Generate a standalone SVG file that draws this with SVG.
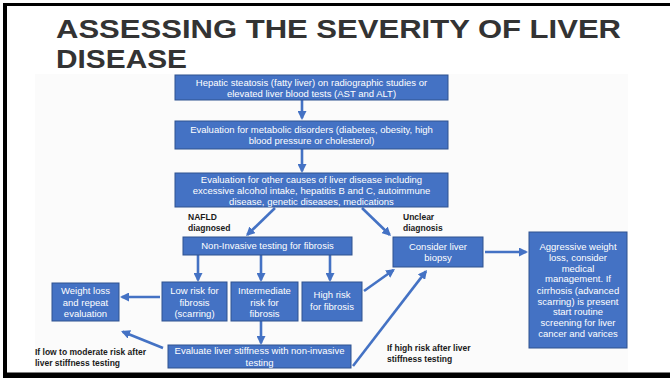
<svg xmlns="http://www.w3.org/2000/svg" width="670" height="378" viewBox="0 0 670 378">
<defs>
<style>
.box{fill:#4472C4;stroke:#2F528F;stroke-width:1}
.bt{fill:#ffffff;font-family:"Liberation Sans",Arial,sans-serif;font-size:9.5px;text-anchor:middle}
.lbl{fill:#1a1a1a;font-family:"Liberation Sans",Arial,sans-serif;font-size:8.5px;font-weight:bold}
.title{fill:#333333;font-family:"Liberation Sans",Arial,sans-serif;font-size:26.5px;font-weight:bold}
.ar{stroke:#4472C4;stroke-width:2.6;fill:none;marker-end:url(#ah)}
</style>
<marker id="ah" markerUnits="userSpaceOnUse" markerWidth="9" markerHeight="9" viewBox="0 0 10 10" refX="8" refY="5" orient="auto">
<path d="M0,0 L10,5 L0,10 z" fill="#4472C4"/>
</marker>
</defs>
<rect x="0" y="0" width="670" height="378" fill="#ffffff"/>
<rect x="35" y="74" width="593" height="298" fill="#fbfbfb"/>
<g id="frame" fill="#000000">
<rect x="3" y="3" width="667" height="3"/>
<rect x="3" y="3" width="4" height="375"/>
<rect x="3" y="372.5" width="667" height="5.5"/>
</g>
<g id="title">
<text class="title" x="56" y="38" textLength="565" lengthAdjust="spacingAndGlyphs">ASSESSING THE SEVERITY OF LIVER</text>
<text class="title" x="56" y="68" textLength="131" lengthAdjust="spacingAndGlyphs">DISEASE</text>
</g>
<g id="connectors">
<line class="ar" x1="302" y1="100" x2="302" y2="118.2"/>
<line class="ar" x1="302" y1="149" x2="302" y2="171.2"/>
<line class="ar" x1="275" y1="208" x2="247.3" y2="234.8"/>
<line class="ar" x1="362" y1="208" x2="389.7" y2="234.8"/>
<line class="ar" x1="198" y1="255" x2="198" y2="280.2"/>
<line class="ar" x1="261" y1="255" x2="261" y2="280.2"/>
<line class="ar" x1="330" y1="255" x2="330" y2="280.2"/>
<line class="ar" x1="160" y1="297" x2="121.8" y2="297"/>
<line class="ar" x1="261" y1="321" x2="261" y2="343.2"/>
<line class="ar" x1="163" y1="348" x2="122.7" y2="331.7"/>
<line class="ar" x1="364" y1="291" x2="393.5" y2="270"/>
<line class="ar" x1="353" y1="366" x2="425.9" y2="271.4"/>
<line class="ar" x1="485" y1="252" x2="526.2" y2="252"/>
</g>
<g id="labels">
<text class="lbl" x="188" y="220">NAFLD</text>
<text class="lbl" x="188" y="231">diagnosed</text>
<text class="lbl" x="403" y="220">Unclear</text>
<text class="lbl" x="403" y="231">diagnosis</text>
<text class="lbl" x="35" y="355">If low to moderate risk after</text>
<text class="lbl" x="35" y="366">liver stiffness testing</text>
<text class="lbl" x="387" y="351">If high risk after liver</text>
<text class="lbl" x="387" y="362">stiffness testing</text>
</g>
<g id="n1">
<rect class="box" x="175" y="75" width="273" height="25"/>
<text class="bt" x="311.5" y="86.3">Hepatic steatosis (fatty liver) on radiographic studies or</text>
<text class="bt" x="311.5" y="96.6">elevated liver blood tests (AST and ALT)</text>
</g>
<g id="n2">
<rect class="box" x="175" y="121" width="273" height="28"/>
<text class="bt" x="311.5" y="133.3">Evaluation for metabolic disorders (diabetes, obesity, high</text>
<text class="bt" x="311.5" y="144">blood pressure or cholesterol)</text>
</g>
<g id="n3">
<rect class="box" x="175" y="173" width="273" height="34"/>
<text class="bt" x="311.5" y="183.3">Evaluation for other causes of liver disease including</text>
<text class="bt" x="311.5" y="194.2">excessive alcohol intake, hepatitis B and C, autoimmune</text>
<text class="bt" x="311.5" y="204.6">disease, genetic diseases, medications</text>
</g>
<g id="n4">
<rect class="box" x="183" y="237" width="169" height="18"/>
<text class="bt" x="267.5" y="249.3">Non-Invasive testing for fibrosis</text>
</g>
<g id="n5">
<rect class="box" x="393" y="237" width="90" height="30"/>
<text class="bt" x="438" y="250">Consider liver</text>
<text class="bt" x="438" y="261">biopsy</text>
</g>
<g id="n6">
<rect class="box" x="529" y="232" width="98" height="116"/>
<text class="bt" x="578" y="250">Aggressive weight</text>
<text class="bt" x="578" y="260.8">loss, consider</text>
<text class="bt" x="578" y="271.6">medical</text>
<text class="bt" x="578" y="282.4">management. If</text>
<text class="bt" x="578" y="294">cirrhosis (advanced</text>
<text class="bt" x="578" y="305">scarring) is present</text>
<text class="bt" x="578" y="315">start routine</text>
<text class="bt" x="578" y="326">screening for liver</text>
<text class="bt" x="578" y="336.6">cancer and varices</text>
</g>
<g id="n7">
<rect class="box" x="52" y="283" width="67" height="38"/>
<text class="bt" x="85.5" y="294.3">Weight loss</text>
<text class="bt" x="85.5" y="306">and repeat</text>
<text class="bt" x="85.5" y="316.6">evaluation</text>
</g>
<g id="n8">
<rect class="box" x="162" y="282" width="65" height="39"/>
<text class="bt" x="194.5" y="294.3">Low risk for</text>
<text class="bt" x="194.5" y="306">fibrosis</text>
<text class="bt" x="194.5" y="316.6">(scarring)</text>
</g>
<g id="n9">
<rect class="box" x="231" y="282" width="67" height="39"/>
<text class="bt" x="264.5" y="294.3">Intermediate</text>
<text class="bt" x="264.5" y="306">risk for</text>
<text class="bt" x="264.5" y="316.6">fibrosis</text>
</g>
<g id="n10">
<rect class="box" x="302" y="282" width="60" height="39"/>
<text class="bt" x="332" y="298.3">High risk</text>
<text class="bt" x="332" y="310">for fibrosis</text>
</g>
<g id="n11">
<rect class="box" x="168" y="345" width="183" height="23"/>
<text class="bt" x="259.5" y="354.3">Evaluate liver stiffness with non-invasive</text>
<text class="bt" x="259.5" y="366.3">testing</text>
</g>
</svg>
